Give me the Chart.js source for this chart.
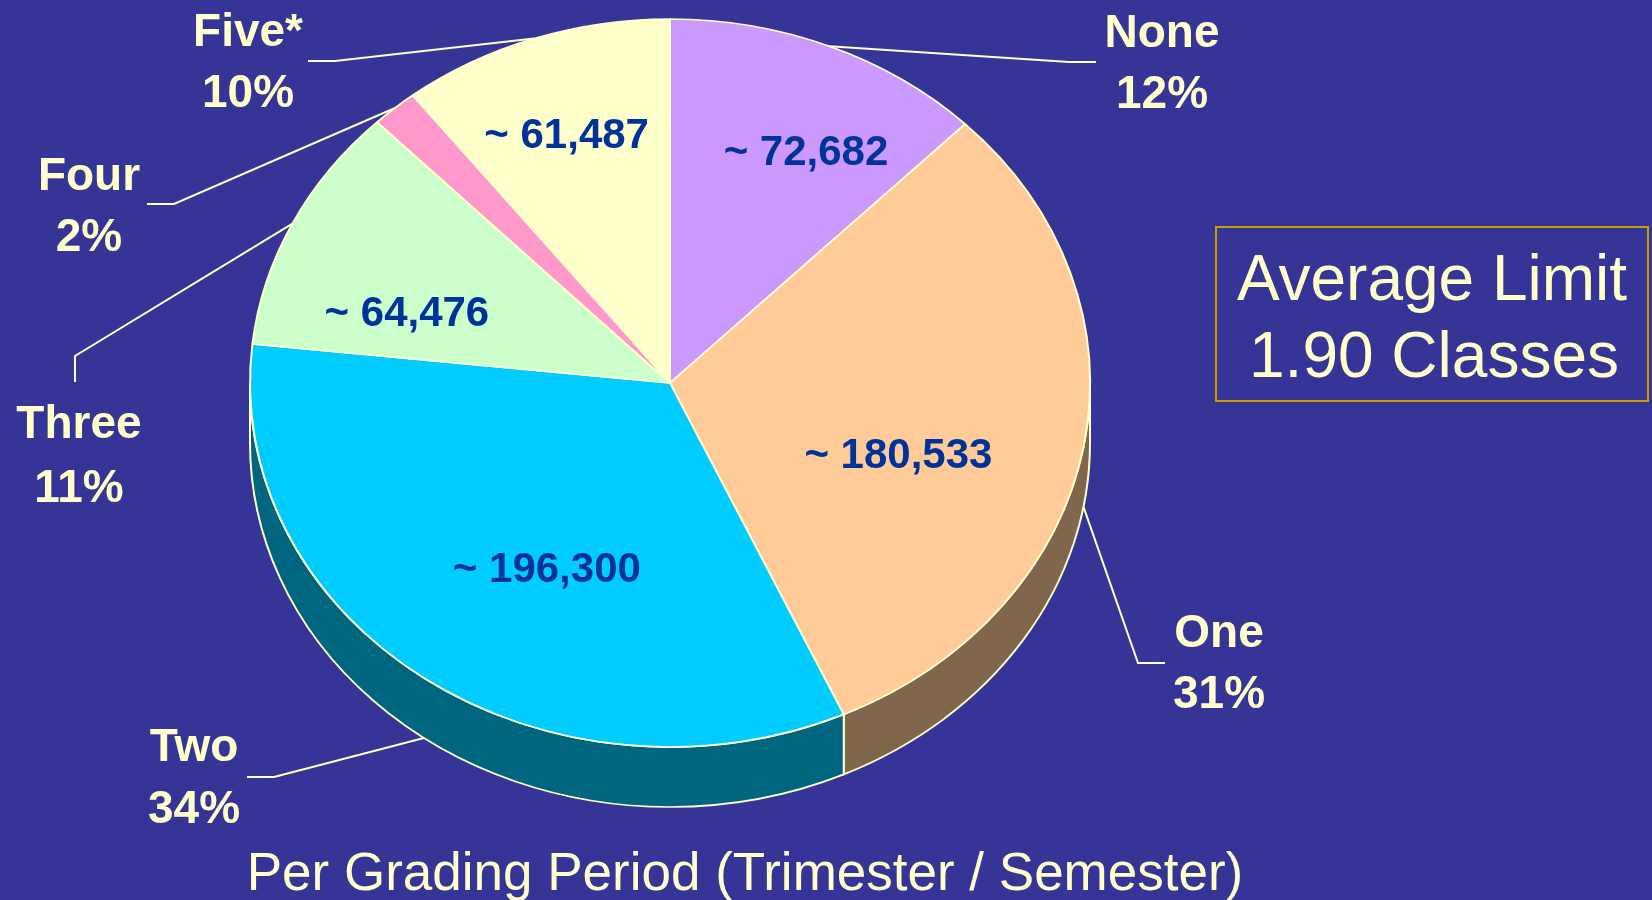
<!DOCTYPE html>
<html><head><meta charset="utf-8">
<script src="https://cdn.jsdelivr.net/npm/chart.js@4/dist/chart.umd.min.js"></script>
<style>html,body{margin:0;padding:0;background:#363597;overflow:hidden}canvas{display:block}</style>
</head><body>
<canvas id="c" width="1652" height="900"></canvas>
<script>
// ---- data ----
const categories = ['None', 'One', 'Two', 'Three', 'Four', 'Five*'];
const counts = [72682, 180533, 196300, 64476, 10500, 61487];
const countLabels = ['~ 72,682', '~ 180,533', '~ 196,300', '~ 64,476', '', '~ 61,487'];
const percentLabels = ['12%', '31%', '34%', '11%', '2%', '10%'];
const boxLines = ['Average Limit', '1.90 Classes'];
const footTitle = 'Per Grading Period (Trimester / Semester)';

// ---- styles ----
const topColors = ['#CC99FF', '#FFCC99', '#00CCFF', '#CCFFCC', '#FF99CC', '#FFFFCC'];
const sideColors = ['#664C80', '#80664C', '#006680', '#668066', '#804C66', '#808066'];
const BG = '#363597', CREAM = '#FFFFCC', VALUE_BLUE = '#003399', GOLD = '#CC9900';
const FONT = '"Liberation Sans", Arial, Helvetica, sans-serif';

// ---- layout ----
const TILT = 364 / 420;      // vertical squash of the pie face
const FACE_CY = 383;         // screen y of face centre
const DEPTH = 60;            // screen thickness of the pie
// value label placement: [angle offset from slice middle (deg), fraction of radius]
const valuePlace = [[4.6, 0.715], [9.7, 0.578], [-5.95, 0.588], [-8.7, 0.656], null, [-0.9, 0.727]];
// leader elbows / ends and label text positions
const leaderLayout = [
  {elbow: [1069, 62], end: [1096, 62], tx: 1162, ty: [47, 108]},
  {elbow: [1138, 663], end: [1165, 663], tx: 1219, ty: [647, 708]},
  {elbow: [274, 777], end: [247, 777], tx: 194, ty: [761, 823]},
  {elbow: [75, 356], end: [75, 382], tx: 79, ty: [438, 502]},
  {elbow: [174, 204], end: [147, 204], tx: 89, ty: [190, 251]},
  {elbow: [335, 61], end: [308, 61], tx: 248, ty: [46, 107]}
];

function norm(a) { const t = Math.PI * 2; return ((a % t) + t) % t; }

const pie3d = {
  id: 'pie3d',
  beforeDraw(chart) {
    const ctx = chart.ctx;
    ctx.save(); ctx.fillStyle = BG; ctx.fillRect(0, 0, chart.width, chart.height); ctx.restore();
  },
  beforeDatasetsDraw(chart) {
    const ctx = chart.ctx;
    const arcs = chart.getDatasetMeta(0).data;
    const cx = arcs[0].x, cy = arcs[0].y, r = arcs[0].outerRadius;
    ctx.save();
    ctx.translate(0, FACE_CY); ctx.scale(1, TILT); ctx.translate(0, -cy);
    const D = DEPTH / TILT;
    arcs.forEach((arc, i) => {
      const a = Math.max(arc.startAngle, 0), b = Math.min(arc.endAngle, Math.PI);
      if (b <= a) return;
      ctx.beginPath();
      ctx.arc(cx, cy, r, a, b);
      ctx.arc(cx, cy + D, r, b, a, true);
      ctx.closePath();
      ctx.fillStyle = sideColors[i]; ctx.fill();
      ctx.strokeStyle = CREAM; ctx.lineWidth = 2; ctx.stroke();
    });
  },
  afterDatasetsDraw(chart) {
    const ctx = chart.ctx;
    ctx.restore();
    const arcs = chart.getDatasetMeta(0).data;
    const cx = arcs[0].x, r = arcs[0].outerRadius;
    const pt = (theta, f, extra) => [cx + r * f * Math.cos(theta), FACE_CY + r * f * Math.sin(theta) * TILT + (extra || 0)];
    // value labels
    ctx.save();
    ctx.fillStyle = VALUE_BLUE; ctx.font = 'bold 42px ' + FONT;
    ctx.textAlign = 'center'; ctx.textBaseline = 'middle';
    arcs.forEach((arc, i) => {
      if (!valuePlace[i] || !countLabels[i]) return;
      const mid = (arc.startAngle + arc.endAngle) / 2 + valuePlace[i][0] * Math.PI / 180;
      const p = pt(mid, valuePlace[i][1]);
      ctx.fillText(countLabels[i], p[0], p[1] + 2);
    });
    ctx.restore();
    // leaders and outer labels
    ctx.save();
    ctx.strokeStyle = CREAM; ctx.lineWidth = 2; ctx.fillStyle = CREAM;
    ctx.font = 'bold 46px ' + FONT; ctx.textAlign = 'center'; ctx.textBaseline = 'alphabetic';
    arcs.forEach((arc, i) => {
      const mid = (arc.startAngle + arc.endAngle) / 2;
      const nm = norm(mid);
      const front = nm > 0 && nm < Math.PI;
      const p = pt(mid, 1, front ? DEPTH : 0);
      const L = leaderLayout[i];
      ctx.beginPath();
      ctx.moveTo(p[0], p[1]); ctx.lineTo(L.elbow[0], L.elbow[1]); ctx.lineTo(L.end[0], L.end[1]);
      ctx.stroke();
      ctx.fillText(categories[i], L.tx, L.ty[0]);
      ctx.fillText(percentLabels[i], L.tx, L.ty[1]);
    });
    ctx.restore();
  },
  afterDraw(chart) {
    const ctx = chart.ctx;
    ctx.save();
    ctx.strokeStyle = GOLD; ctx.lineWidth = 2;
    ctx.strokeRect(1216, 227, 432, 174);
    ctx.fillStyle = CREAM; ctx.font = '64px ' + FONT; ctx.textAlign = 'center'; ctx.textBaseline = 'alphabetic';
    ctx.fillText(boxLines[0], 1432, 300);
    ctx.fillText(boxLines[1], 1434, 377);
    ctx.font = '53px ' + FONT;
    ctx.fillText(footTitle, 745, 890);
    ctx.restore();
  }
};

new Chart(document.getElementById('c'), {
  type: 'pie',
  data: {
    labels: categories,
    datasets: [{
      data: counts,
      backgroundColor: topColors,
      borderColor: CREAM,
      borderWidth: 2,
      hoverOffset: 0,
      clip: false
    }]
  },
  options: {
    responsive: false,
    animation: false,
    events: [],
    radius: 420,
    layout: {padding: {left: 250, right: 562, top: 30, bottom: 30}},
    plugins: {legend: {display: false}, tooltip: {enabled: false}, title: {display: false}}
  },
  plugins: [pie3d]
});
</script>
</body></html>
